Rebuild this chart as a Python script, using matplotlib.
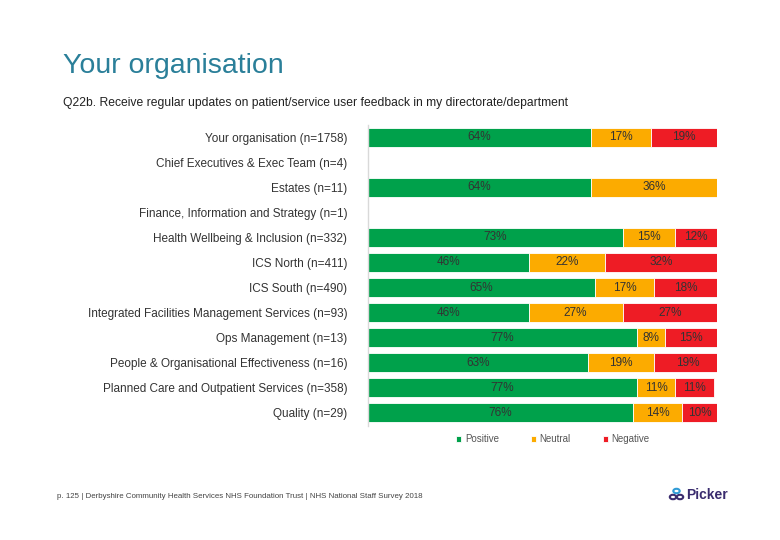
import matplotlib.pyplot as plt
import numpy as np
from matplotlib.patches import Circle

plt.rcParams["font.family"] = ["Liberation Sans", "DejaVu Sans"]

categories = [
    "Your organisation (n=1758)",
    "Chief Executives & Exec Team (n=4)",
    "Estates (n=11)",
    "Finance, Information and Strategy (n=1)",
    "Health Wellbeing & Inclusion (n=332)",
    "ICS North (n=411)",
    "ICS South (n=490)",
    "Integrated Facilities Management Services (n=93)",
    "Ops Management (n=13)",
    "People & Organisational Effectiveness (n=16)",
    "Planned Care and Outpatient Services (n=358)",
    "Quality (n=29)",
]
positive = [64, 0, 64, 0, 73, 46, 65, 46, 77, 63, 77, 76]
neutral = [17, 0, 36, 0, 15, 22, 17, 27, 8, 19, 11, 14]
negative = [19, 0, 0, 0, 12, 32, 18, 27, 15, 19, 11, 10]

series_names = ["Positive", "Neutral", "Negative"]
colors = ["#00A14B", "#FCAB00", "#EE1C25"]

fig = plt.figure(figsize=(7.8, 5.4), dpi=100)
ax = fig.add_axes([368 / 780, 1 - 425.5 / 540, (717 - 368) / 780, 301 / 540])

y = np.arange(len(categories))
left = np.zeros(len(categories))
for vals, name, col in zip([positive, neutral, negative], series_names, colors):
    vals = np.array(vals, dtype=float)
    ax.barh(y, vals, left=left, height=0.76, color=col, edgecolor="white",
            linewidth=0.6, label=name)
    for yi, l, v in zip(y, left, vals):
        if v > 0:
            ax.text(l + v / 2, yi, f"{int(v)}%", ha="center", va="center",
                    fontsize=8.5, color="#333333")
    left = left + vals

ax.set_xlim(0, 100)
ax.set_ylim(len(categories) - 0.5, -0.5)
ax.set_yticks(y)
ax.set_yticklabels(categories, fontsize=8.5, color="#333333")
ax.tick_params(axis="y", length=0, pad=15)
ax.set_xticks([])
for s in ["top", "right", "bottom"]:
    ax.spines[s].set_visible(False)
ax.spines["left"].set_color("#D9D9D9")
ax.spines["left"].set_linewidth(1)

ax.legend(loc="upper center", bbox_to_anchor=(0.53, 0.0), ncol=3, frameon=False,
          fontsize=7, handlelength=0.5, handleheight=0.5, columnspacing=3.3,
          handletextpad=0.4, labelcolor="#555555")

fig.text(63 / 780, 1 - 66 / 540, "Your organisation", fontsize=20.5,
         color="#2A7F99", va="center", ha="left")
fig.text(63 / 780, 1 - 103 / 540,
         "Q22b. Receive regular updates on patient/service user feedback in my directorate/department",
         fontsize=8.7, color="#222222", va="center", ha="left")
fig.text(57 / 780, 1 - 497 / 540,
         "p. 125 | Derbyshire Community Health Services NHS Foundation Trust | NHS National Staff Survey 2018",
         fontsize=5.7, color="#444444", va="center", ha="left")

# Picker logo
fig.text(686 / 780, 1 - 495 / 540, "Picker", fontsize=10, fontweight="bold",
         color="#3A2C6E", va="center", ha="left")
for cx, cy in [(673, 497), (680, 497)]:
    fig.patches.append(Circle((cx / 780, 1 - cy / 540), 3.2 / 780, transform=fig.transFigure,
                              fill=False, edgecolor="#3A2C6E", linewidth=1.5))
fig.patches.append(Circle((676.5 / 780, 1 - 491 / 540), 3.2 / 780, transform=fig.transFigure,
                          fill=False, edgecolor="#2F9BD6", linewidth=1.5))

fig.savefig("out.png", dpi=100)
